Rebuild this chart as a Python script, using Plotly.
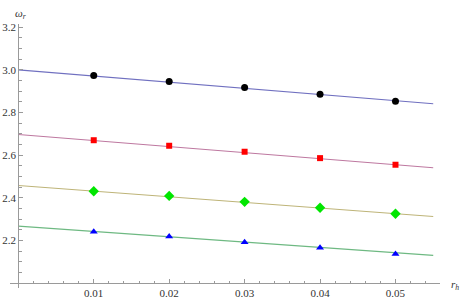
import plotly.graph_objects as go

# ---- data ----
r_h = [0.01, 0.02, 0.03, 0.04, 0.05]
omega_black = [2.973, 2.945, 2.917, 2.886, 2.853]
omega_red = [2.670, 2.644, 2.616, 2.586, 2.555]
omega_green = [2.431, 2.409, 2.381, 2.353, 2.325]
omega_blue = [2.241, 2.219, 2.192, 2.166, 2.136]

fit_x = [0.0, 0.055]
fit_black = [3.000, 2.841]
fit_red = [2.697, 2.541]
fit_green = [2.458, 2.312]
fit_blue = [2.267, 2.130]

y_ticks = [2.2, 2.4, 2.6, 2.8, 3.0, 3.2]
y_tick_labels = ["2.2", "2.4", "2.6", "2.8", "3.0", "3.2"]
x_ticks = [0.01, 0.02, 0.03, 0.04, 0.05]
x_tick_labels = ["0.01", "0.02", "0.03", "0.04", "0.05"]
y_minor = [round(2.0 + 0.05 * i, 3) for i in range(1, 25) if round(2.0 + 0.05 * i, 3) not in y_ticks]
x_minor = [round(0.002 * i, 4) for i in range(1, 28) if round(0.002 * i, 4) not in x_ticks]

x_range = [-0.0011, 0.0559]
y_range = [1.977, 3.215]
x_origin = 0.0
y_origin = 2.0

fig = go.Figure()

series = [
    (fit_black, omega_black, "rgb(112,112,192)", "black", "circle", 7),
    (fit_red, omega_red, "rgb(190,120,160)", "red", "square", 6),
    (fit_green, omega_green, "rgb(190,180,120)", "rgb(0,230,0)", "diamond", 8),
    (fit_blue, omega_blue, "rgb(110,185,130)", "blue", "triangle-up", 7),
]
for fit, pts, lc, mc, sym, ms in series:
    fig.add_trace(go.Scatter(x=fit_x, y=fit, mode="lines",
                             line=dict(color=lc, width=1.1), showlegend=False,
                             hoverinfo="skip"))
for fit, pts, lc, mc, sym, ms in series:
    fig.add_trace(go.Scatter(x=r_h, y=pts, mode="markers",
                             marker=dict(color=mc, symbol=sym, size=ms, line=dict(width=0)),
                             showlegend=False))

xpos = (y_origin - y_range[0]) / (y_range[1] - y_range[0])
ypos = (x_origin - x_range[0]) / (x_range[1] - x_range[0])

serif = "Liberation Serif, Times New Roman, serif"
tickfont = dict(family=serif, size=11, color="#333")
fig.update_layout(
    width=461, height=300,
    margin=dict(l=10, r=21, t=23.5, b=12, autoexpand=False),
    paper_bgcolor="white", plot_bgcolor="white",
    font=dict(family=serif),
    xaxis=dict(range=x_range, anchor="free", position=xpos, showgrid=False, zeroline=False,
               automargin=False,
               showline=True, linecolor="#9a9a9a", linewidth=1,
               tickmode="array", tickvals=x_ticks, ticktext=x_tick_labels,
               ticks="inside", ticklen=4, tickcolor="#9a9a9a", tickwidth=1,
               tickfont=tickfont,
               minor=dict(tickmode="array", tickvals=x_minor, ticks="inside", ticklen=2.5,
                          tickcolor="#9a9a9a", tickwidth=1, showgrid=False)),
    yaxis=dict(range=y_range, anchor="free", position=ypos, showgrid=False, zeroline=False,
               automargin=False,
               showline=True, linecolor="#9a9a9a", linewidth=1,
               tickmode="array", tickvals=y_ticks, ticktext=y_tick_labels,
               ticks="inside", ticklen=4, tickcolor="#9a9a9a", tickwidth=1,
               tickfont=tickfont,
               minor=dict(tickmode="array", tickvals=y_minor, ticks="inside", ticklen=2.5,
                          tickcolor="#9a9a9a", tickwidth=1, showgrid=False)),
    annotations=[
        dict(text="<i>ω<sub>r</sub></i>", xref="paper", yref="paper", x=ypos, y=1.0,
             xanchor="left", yanchor="bottom", showarrow=False, xshift=-5, yshift=1,
             font=dict(family=serif, size=11, color="#333")),
        dict(text="<i>r<sub>h</sub></i>", xref="paper", yref="paper", x=1.0, y=xpos,
             xanchor="left", yanchor="middle", showarrow=False, xshift=9, yshift=-2,
             font=dict(family=serif, size=11, color="#333")),
    ],
)

fig.write_html("out.html",
               config={"displayModeBar": False},
               post_script="document.body.style.margin='0';document.body.style.overflow='hidden';")
